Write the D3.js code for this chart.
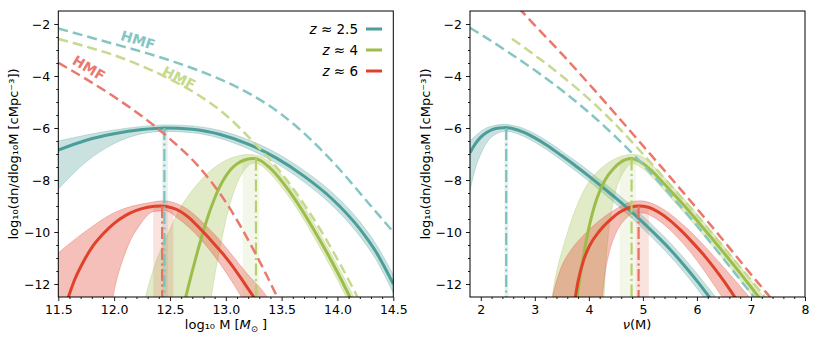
<!DOCTYPE html>
<html><head><meta charset="utf-8">
<script src="https://cdn.jsdelivr.net/npm/d3@7"></script>
<style>body{margin:0;background:#fff} text{font-family:"DejaVu Sans",sans-serif}</style>
</head><body><svg id="c" width="830" height="346"></svg>
<script>
// ---------------- DATA ----------------
const zValues = ["2.5", "4", "6"];
const massTicks = [11.5, 12.0, 12.5, 13.0, 13.5, 14.0, 14.5];
const nuTicks = [2, 3, 4, 5, 6, 7, 8];
const yTicks = [-2, -4, -6, -8, -10, -12];

// Left panel (log10 M)
const hmfM_z25 = [[11.5,-2.17],[11.75,-2.47],[12.0,-2.77],[12.25,-3.07],[12.5,-3.4],[12.75,-3.78],[13.0,-4.22],[13.25,-4.77],[13.5,-5.48],[13.75,-6.4],[14.0,-7.5],[14.25,-8.75],[14.5,-10.0]];
const hmfM_z4 = [[11.5,-2.57],[11.75,-2.87],[12.0,-3.2],[12.25,-3.62],[12.5,-4.12],[12.75,-4.72],[13.0,-5.5],[13.25,-6.55],[13.5,-7.75],[13.75,-9.25],[14.0,-11.05],[14.25,-13.1]];
const hmfM_z6 = [[11.5,-3.49],[11.75,-4.12],[12.0,-4.8],[12.25,-5.55],[12.5,-6.42],[12.75,-7.45],[13.0,-8.85],[13.25,-10.7],[13.5,-12.85]];

const curveM_z25 = [[11.5,-6.85],[11.75,-6.47],[12.0,-6.22],[12.25,-6.06],[12.45,-6.0],[12.7,-6.05],[12.95,-6.25],[13.2,-6.62],[13.45,-7.15],[13.7,-7.85],[13.95,-8.72],[14.2,-9.88],[14.35,-10.8],[14.5,-12.0]];
const bandM_z25 = [[11.5,-8.35,-6.5],[11.75,-7.3,-6.27],[12.0,-6.6,-6.08],[12.25,-6.22,-5.94],[12.45,-6.13,-5.88],[12.7,-6.18,-5.92],[12.95,-6.4,-6.1],[13.2,-6.8,-6.45],[13.45,-7.35,-6.95],[13.7,-8.08,-7.63],[13.95,-8.97,-8.47],[14.2,-10.16,-9.6],[14.35,-11.1,-10.5],[14.5,-12.35,-11.65]];

const curveM_z4 = [[12.6,-13.2],[12.65,-12.35],[12.7,-11.5],[12.75,-10.7],[12.8,-9.95],[12.85,-9.28],[12.9,-8.7],[12.95,-8.22],[13.0,-7.85],[13.05,-7.57],[13.1,-7.38],[13.175,-7.22],[13.25,-7.17],[13.31,-7.25],[13.38,-7.48],[13.45,-7.78],[13.52,-8.15],[13.6,-8.62],[13.7,-9.28],[13.8,-10.0],[13.9,-10.75],[14.0,-11.55],[14.1,-12.4],[14.2,-13.3]];
const bandHiM_z4 = [[12.2,-14.0],[12.28,-12.5],[12.37,-11.2],[12.47,-10.18],[12.57,-9.25],[12.68,-8.51],[12.8,-7.9],[12.92,-7.45],[13.05,-7.15],[13.2,-7.02],[13.3,-7.08],[13.38,-7.28],[13.45,-7.56],[13.52,-7.92],[13.6,-8.38],[13.7,-9.03],[13.8,-9.75],[13.9,-10.5],[14.0,-11.28],[14.1,-12.1],[14.2,-12.98],[14.3,-13.9]];
const bandLoM_z4 = [[12.85,-13.1],[12.87,-12.5],[12.9,-11.7],[12.94,-10.8],[12.99,-9.75],[13.05,-8.75],[13.12,-7.95],[13.19,-7.5],[13.25,-7.35],[13.31,-7.42],[13.38,-7.68],[13.45,-8.0],[13.52,-8.38],[13.6,-8.86],[13.7,-9.53],[13.8,-10.27],[13.9,-11.04],[14.0,-11.84],[14.1,-12.7],[14.2,-13.6]];

const curveM_z6 = [[11.55,-13.0],[11.59,-12.5],[11.65,-11.8],[11.72,-11.18],[11.8,-10.6],[11.9,-10.08],[12.0,-9.67],[12.1,-9.37],[12.2,-9.17],[12.3,-9.05],[12.42,-9.0],[12.52,-9.07],[12.59,-9.2],[12.67,-9.45],[12.74,-9.74],[12.82,-10.1],[12.89,-10.43],[12.97,-10.82],[13.04,-11.2],[13.12,-11.68],[13.19,-12.12],[13.25,-12.5],[13.33,-13.05]];
const bandHiM_z6 = [[11.45,-11.0],[11.5,-10.81],[11.72,-10.05],[12.02,-9.22],[12.32,-8.87],[12.44,-8.8],[12.59,-8.96],[12.89,-10.05],[13.19,-11.6],[13.37,-12.5],[13.45,-13.1]];
const bandLoM_z6 = [[11.45,-14.0],[11.95,-13.5],[11.99,-12.5],[12.11,-10.69],[12.23,-9.73],[12.35,-9.22],[12.45,-9.18],[12.59,-9.54],[12.89,-10.88],[13.14,-12.5],[13.2,-12.95]];

const peakM = [12.45, 13.27, 12.43];
const peakValM = [-6.0, -7.17, -9.0];
const peakBandM = [[12.43, 12.48], [13.15, 13.30], [12.35, 12.53]];

// Right panel (nu)
const hmfNu_z25 = [[1.8,-2.15],[2.0,-2.4],[2.5,-3.07],[3.0,-3.78],[3.5,-4.55],[4.0,-5.4],[4.5,-6.35],[5.0,-7.4],[5.5,-8.55],[6.0,-9.75],[6.5,-11.05],[7.0,-12.35],[7.3,-13.1]];
const hmfNu_z4 = [[2.58,-2.57],[3.0,-3.2],[3.5,-4.0],[4.0,-4.88],[4.5,-5.88],[5.0,-7.0],[5.5,-8.18],[6.0,-9.35],[6.5,-10.6],[7.0,-11.85],[7.26,-12.5],[7.4,-12.85]];
const hmfNu_z6 = [[2.7,-1.38],[3.0,-2.05],[3.5,-3.15],[4.0,-4.3],[4.5,-5.48],[5.0,-6.68],[5.5,-7.88],[6.0,-9.1],[6.5,-10.35],[7.0,-11.63],[7.35,-12.5],[7.5,-12.9]];

const curveNu_z25 = [[1.8,-6.95],[1.9,-6.6],[2.0,-6.35],[2.1,-6.18],[2.2,-6.07],[2.35,-6.0],[2.46,-5.98],[2.6,-6.03],[2.8,-6.17],[3.0,-6.38],[3.25,-6.7],[3.5,-7.07],[3.75,-7.45],[4.0,-7.85],[4.25,-8.27],[4.5,-8.7],[4.75,-9.15],[5.0,-9.63],[5.25,-10.13],[5.5,-10.66],[5.75,-11.25],[6.0,-11.88],[6.25,-12.55],[6.5,-13.2]];
const bandNu_z25 = [[1.8,-8.4,-6.5],[1.9,-7.55,-6.3],[2.0,-7.0,-6.13],[2.1,-6.6,-6.0],[2.2,-6.35,-5.93],[2.35,-6.17,-5.87],[2.46,-6.12,-5.86],[2.6,-6.17,-5.9],[2.8,-6.33,-6.02],[3.0,-6.55,-6.22],[3.25,-6.88,-6.53],[3.5,-7.25,-6.89],[3.75,-7.64,-7.26],[4.0,-8.05,-7.65],[4.25,-8.48,-8.06],[4.5,-8.92,-8.48],[4.75,-9.38,-8.92],[5.0,-9.87,-9.39],[5.25,-10.38,-9.88],[5.5,-10.92,-10.4],[5.75,-11.52,-10.98],[6.0,-12.17,-11.6],[6.25,-12.87,-12.25],[6.5,-13.55,-12.9]];

const curveNu_z4 = [[3.7,-13.5],[3.78,-12.5],[3.85,-11.55],[3.95,-10.35],[4.05,-9.4],[4.15,-8.7],[4.3,-8.0],[4.45,-7.58],[4.6,-7.3],[4.78,-7.17],[4.95,-7.3],[5.15,-7.62],[5.35,-8.05],[5.55,-8.5],[5.8,-9.07],[6.05,-9.68],[6.3,-10.3],[6.55,-10.93],[6.8,-11.58],[7.05,-12.25],[7.3,-12.92]];
const bandHiNu_z4 = [[3.25,-13.5],[3.32,-12.5],[3.4,-11.55],[3.5,-10.75],[3.6,-10.05],[3.72,-9.3],[3.85,-8.65],[4.0,-8.07],[4.15,-7.7],[4.3,-7.42],[4.5,-7.17],[4.7,-7.04],[4.85,-7.02],[5.0,-7.12],[5.15,-7.38],[5.35,-7.8],[5.55,-8.25],[5.8,-8.82],[6.05,-9.43],[6.3,-10.05],[6.55,-10.68],[6.8,-11.33],[7.05,-12.0],[7.3,-12.67],[7.45,-13.1]];
const bandLoNu_z4 = [[4.25,-13.5],[4.28,-12.5],[4.31,-11.3],[4.36,-10.1],[4.42,-9.2],[4.5,-8.4],[4.6,-7.85],[4.7,-7.52],[4.8,-7.36],[4.95,-7.5],[5.15,-7.85],[5.35,-8.3],[5.55,-8.77],[5.8,-9.35],[6.05,-9.95],[6.3,-10.58],[6.55,-11.2],[6.8,-11.85],[7.05,-12.52],[7.3,-13.2]];

const curveNu_z6 = [[3.7,-13.2],[3.8,-11.9],[3.9,-11.1],[4.0,-10.58],[4.2,-9.95],[4.4,-9.52],[4.6,-9.2],[4.8,-9.03],[4.92,-9.0],[5.1,-9.05],[5.3,-9.25],[5.5,-9.55],[5.7,-9.93],[5.9,-10.36],[6.1,-10.82],[6.3,-11.33],[6.5,-11.89],[6.7,-12.5],[6.9,-13.15]];
const bandHiNu_z6 = [[3.28,-13.2],[3.33,-12.5],[3.4,-11.9],[3.5,-11.3],[3.65,-10.75],[3.8,-10.35],[4.0,-9.92],[4.2,-9.55],[4.4,-9.25],[4.6,-9.0],[4.8,-8.83],[4.95,-8.8],[5.1,-8.85],[5.3,-9.03],[5.5,-9.3],[5.7,-9.64],[5.9,-10.02],[6.1,-10.45],[6.3,-10.9],[6.5,-11.37],[6.7,-11.85],[6.9,-12.33],[7.1,-12.82]];
const bandLoNu_z6 = [[4.22,-13.2],[4.25,-12.5],[4.3,-11.6],[4.37,-10.85],[4.45,-10.3],[4.55,-9.85],[4.7,-9.45],[4.85,-9.28],[5.0,-9.27],[5.2,-9.43],[5.4,-9.73],[5.6,-10.12],[5.8,-10.58],[6.0,-11.1],[6.2,-11.68],[6.4,-12.3],[6.6,-12.95]];

const peakNu = [2.47, 4.79, 4.92];
const peakValNu = [-6.0, -7.17, -9.0];
const peakBandNu = [[2.44, 2.51], [4.57, 4.87], [4.87, 5.11]];

// ---------------- STYLE ----------------
const dark = ["#4b9e99", "#9dbd4a", "#e0412b"];
const light = ["#85c6c2", "#c6d98c", "#ea786c"];
const vline = ["#7cc1bd", "#b7cf6c", "#e8705f"];

const svg = d3.select("#c");
const TOP = 11, BOT = 297;
const y = d3.scaleLinear().domain([-12.5, -1.5]).range([BOT, TOP]);

function range(a, b, s) { const out = []; const n = Math.round((b - a) / s); for (let i = 0; i <= n; i++) out.push(+(a + i * s).toFixed(4)); return out; }

function panel(id, x0, x1, domain, ticks, fmt, minorStep, d) {
  const x = d3.scaleLinear().domain(domain).range([x0, x1]);
  const g = svg.append("g");
  const clipId = "clip" + id;
  svg.append("clipPath").attr("id", clipId).append("rect")
    .attr("x", x0).attr("y", TOP).attr("width", x1 - x0).attr("height", BOT - TOP);
  const pg = g.append("g").attr("clip-path", `url(#${clipId})`);
  const line = d3.line().x(p => x(p[0])).y(p => y(p[1])).curve(d3.curveMonotoneX);
  const area = d3.area().x(p => x(p[0])).y0(p => y(p[1])).y1(p => y(p[2])).curve(d3.curveMonotoneX);
  const poly = (hi, lo) => line(hi) + line(lo.slice().reverse()).replace(/^M/, "L") + "Z";

  d.bands.forEach((b, i) => {
    const dPath = b.length === 1 ? area(b[0]) : poly(b[0], b[1]);
    pg.append("path").attr("d", dPath).attr("fill", dark[i]).attr("fill-opacity", i === 2 ? 0.33 : 0.3)
      .attr("stroke", dark[i]).attr("stroke-opacity", 0.35).attr("stroke-width", 0.8);
  });
  d.peakBand.forEach((b, i) => {
    pg.append("rect").attr("x", x(b[0])).attr("width", x(b[1]) - x(b[0]))
      .attr("y", y(d.peakVal[i])).attr("height", BOT - y(d.peakVal[i]))
      .attr("fill", dark[i]).attr("fill-opacity", i === 1 ? 0.12 : 0.15);
  });
  d.curves.forEach((c, i) => {
    pg.append("path").attr("d", line(c)).attr("fill", "none").attr("stroke", dark[i]).attr("stroke-width", 3);
  });
  [2, 1, 0].forEach(i => {
    pg.append("line").attr("x1", x(d.peak[i])).attr("x2", x(d.peak[i]))
      .attr("y1", y(d.peakVal[i])).attr("y2", BOT)
      .attr("stroke", vline[i]).attr("stroke-width", 2.2).attr("stroke-dasharray", "12,3.5,2,3.5");
  });
  d.hmf.forEach((c, i) => {
    pg.append("path").attr("d", line(c)).attr("fill", "none").attr("stroke", light[i]).attr("stroke-width", 2.5)
      .attr("stroke-dasharray", "10,5");
  });

  const ax = g.append("g").attr("transform", `translate(0,${BOT})`)
    .call(d3.axisBottom(x).tickValues(ticks).tickFormat(fmt).tickSize(4).tickPadding(4));
  const minorX = range(domain[0], domain[1], minorStep).filter(v => !ticks.some(t => Math.abs(t - v) < 1e-6) && v > domain[0] + 1e-6 && v < domain[1] - 1e-6);
  const axm = g.append("g").attr("transform", `translate(0,${BOT})`)
    .call(d3.axisBottom(x).tickValues(minorX).tickFormat("").tickSize(2));
  const ay = g.append("g").attr("transform", `translate(${x0},0)`)
    .call(d3.axisLeft(y).tickValues(yTicks).tickFormat(v => "\u2212" + Math.abs(v)).tickSize(4).tickPadding(4));
  const minorY = range(-12.5, -1.5, 0.5).filter(v => v % 2 !== 0 && v > -12.5 && v < -1.5);
  const aym = g.append("g").attr("transform", `translate(${x0},0)`)
    .call(d3.axisLeft(y).tickValues(minorY).tickFormat("").tickSize(2));
  [ax, axm, ay, aym].forEach(a => {
    a.select(".domain").remove();
    a.selectAll("text").attr("font-size", 12.5).attr("fill", "#000").attr("font-family", "DejaVu Sans");
    a.selectAll("line").attr("stroke", "#000").attr("stroke-width", 0.9);
  });
  g.append("rect").attr("x", x0).attr("y", TOP).attr("width", x1 - x0).attr("height", BOT - TOP)
    .attr("fill", "none").attr("stroke", "#000").attr("stroke-width", 1);

  g.append("text").attr("transform", `translate(${x0 - 40},${(TOP + BOT) / 2}) rotate(-90)`)
    .attr("text-anchor", "middle").attr("font-size", 13).attr("fill", "#000")
    .text("log\u2081\u2080(dn/dlog\u2081\u2080M [cMpc\u207B\u00B3])");
  return { g, x };
}

const L = panel("L", 58.3, 393.3, [11.5, 14.5], massTicks, v => v.toFixed(1), 0.1, {
  bands: [[bandM_z25], [bandHiM_z4, bandLoM_z4], [bandHiM_z6, bandLoM_z6]],
  curves: [curveM_z25, curveM_z4, curveM_z6],
  hmf: [hmfM_z25, hmfM_z4, hmfM_z6],
  peak: peakM, peakVal: peakValM, peakBand: peakBandM
});
const R = panel("R", 470, 805, [1.8, 8], nuTicks, v => String(v), 0.2, {
  bands: [[bandNu_z25], [bandHiNu_z4, bandLoNu_z4], [bandHiNu_z6, bandLoNu_z6]],
  curves: [curveNu_z25, curveNu_z4, curveNu_z6],
  hmf: [hmfNu_z25, hmfNu_z4, hmfNu_z6],
  peak: peakNu, peakVal: peakValNu, peakBand: peakBandNu
});

const xl = L.g.append("text").attr("x", 226).attr("y", 329).attr("text-anchor", "middle").attr("font-size", 13).attr("fill", "#000");
xl.append("tspan").text("log\u2081\u2080 M [");
xl.append("tspan").attr("font-style", "italic").text("M");
xl.append("tspan").attr("font-size", 8.5).attr("dy", 3).text("\u2299");
xl.append("tspan").attr("dy", -3).text(" ]");
const xr = R.g.append("text").attr("x", 637).attr("y", 329).attr("text-anchor", "middle").attr("font-size", 13).attr("fill", "#000");
xr.append("tspan").attr("font-style", "italic").text("\u03BD");
xr.append("tspan").text("(M)");

const hmfLabelPos = [[138, 40, 17], [179, 78, 27], [89, 68, 31]];
hmfLabelPos.forEach((p, i) => {
  L.g.append("text").attr("transform", `translate(${p[0]},${p[1]}) rotate(${p[2]})`)
    .attr("text-anchor", "middle").attr("dominant-baseline", "central")
    .attr("font-size", 14).attr("font-weight", "bold").attr("fill", light[i]).text("HMF");
});

zValues.forEach((z, i) => {
  const yy = 29 + i * 21;
  const t = L.g.append("text").attr("x", 358).attr("y", yy).attr("text-anchor", "end")
    .attr("dominant-baseline", "central").attr("font-size", 13.5).attr("fill", "#000");
  t.append("tspan").attr("font-style", "italic").text("z");
  t.append("tspan").text(" \u2248 " + z);
  L.g.append("line").attr("x1", 366).attr("x2", 382).attr("y1", yy).attr("y2", yy)
    .attr("stroke", dark[i]).attr("stroke-width", 3);
});
</script></body></html>
